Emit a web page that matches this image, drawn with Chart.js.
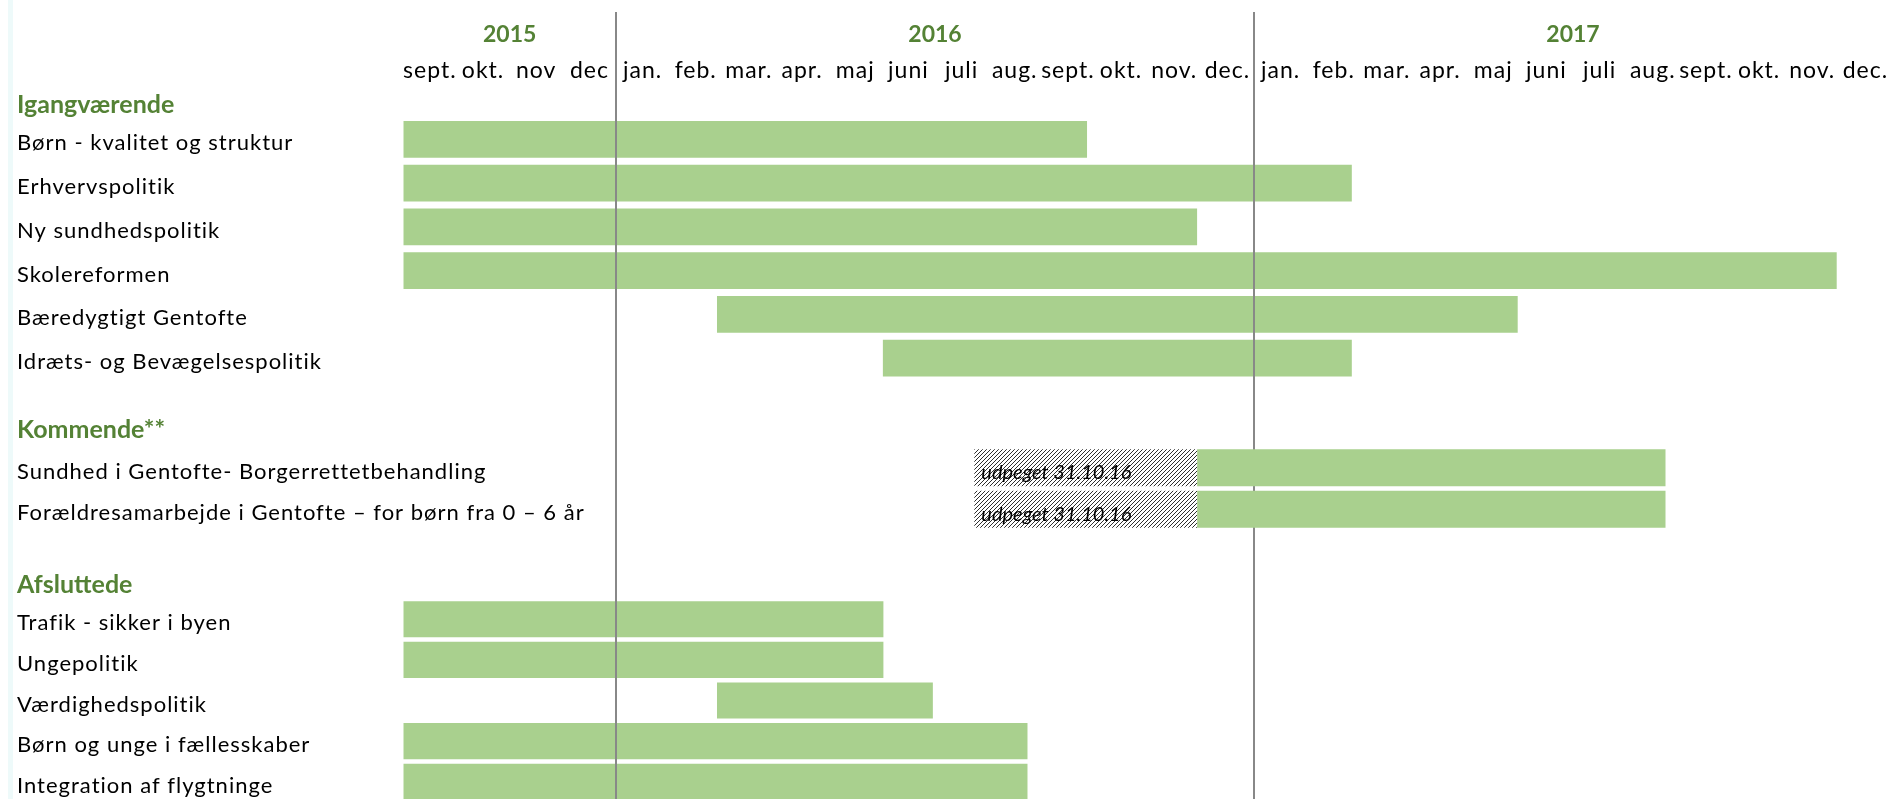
<!DOCTYPE html>
<html lang="da">
<head>
<meta charset="utf-8">
<title>Politikker - tidsplan</title>
<script src="https://cdn.jsdelivr.net/npm/chart.js@4.4.1/dist/chart.umd.min.js"></script>
<style>
    html, body { margin: 0; padding: 0; background: #fff; overflow: hidden; }
    .page { position: relative; width: 1895px; }
    .edge { position: absolute; left: 8px; top: 0; width: 5px; height: 799px; background: #eefafa; }
    .section { position: relative; width: 1895px; }
</style>
</head>
<body>
<div class="page">
    <div class="edge"></div>
    <div class="section" style="height:380px"><canvas id="ongoingChart"></canvas></div>
    <div class="section" style="height:150px"><canvas id="upcomingChart"></canvas></div>
    <div class="section" style="height:272px"><canvas id="finishedChart"></canvas></div>
</div>
<script>
// x unit = 1 month, 0 = 1. sept. 2015
const monthLabels = ['sept.', 'okt.', 'nov', 'dec',
    'jan.', 'feb.', 'mar.', 'apr.', 'maj', 'juni', 'juli', 'aug.', 'sept.', 'okt.', 'nov.', 'dec.',
    'jan.', 'feb.', 'mar.', 'apr.', 'maj', 'juni', 'juli', 'aug.', 'sept.', 'okt.', 'nov.', 'dec.'];
const yearLabels = ['2015', '2016', '2017'];

// Igangværende
const ongoingTasks = ['Børn - kvalitet og struktur', 'Erhvervspolitik', 'Ny sundhedspolitik',
    'Skolereformen', 'Bæredygtigt Gentofte', 'Idræts- og Bevægelsespolitik'];
const ongoingStart = [0, 0, 0, 0, 5.9, 9.02];
const ongoingEnd = [12.86, 17.84, 14.93, 26.96, 20.96, 17.84];

// Kommende**
const upcomingTasks = ['Sundhed i Gentofte- Borgerrettetbehandling',
    'Forældresamarbejde i Gentofte – for børn fra 0 – 6 år'];
const upcomingAppointed = [10.74, 10.74];
const upcomingStart = [14.93, 14.93];
const upcomingEnd = [23.74, 23.74];
const appointedNote = 'udpeget 31.10.16';

// Afsluttede
const finishedTasks = ['Trafik - sikker i byen', 'Ungepolitik', 'Værdighedspolitik',
    'Børn og unge i fællesskaber', 'Integration af flygtninge'];
const finishedStart = [0, 0, 5.9, 0, 0];
const finishedEnd = [9.03, 9.03, 9.96, 11.74, 11.74];

document.addEventListener('DOMContentLoaded', function() {
    const FONT = 'Lato, "Open Sans", sans-serif';
    const GREEN_TEXT = '#548235';
    const BAR_GREEN = '#a9d08e';
    const TOTAL = monthLabels.length;
    const LABEL_LEFT = 17;
    const AREA_LEFT = 403.3;

    // year spans come from where 'jan.' starts
    const yearStarts = monthLabels.map((m, i) => (i === 0 || m.startsWith('jan')) ? i : -1).filter(i => i >= 0);
    const yearBreaks = yearStarts.slice(1);
    const yearCenters = yearStarts.map((s, i) => (s + (i + 1 < yearStarts.length ? yearStarts[i + 1] : TOTAL)) / 2);

    Chart.defaults.font.family = FONT;
    Chart.defaults.animation = false;

    // hatch fill for the "udpeget" part
    function makeHatch() {
        const c = document.createElement('canvas');
        c.width = 4; c.height = 4;
        const g = c.getContext('2d');
        g.fillStyle = '#ffffff';
        g.fillRect(0, 0, 4, 4);
        g.strokeStyle = '#2e2e2e';
        g.lineWidth = 1;
        g.beginPath();
        g.moveTo(0, 4); g.lineTo(4, 0);
        g.moveTo(-1, 1); g.lineTo(1, -1);
        g.moveTo(3, 5); g.lineTo(5, 3);
        g.stroke();
        return g.createPattern(c, 'repeat');
    }

    // no extra room for labels at the ends of the axes
    function noPadding(s) {
        s.paddingLeft = 0; s.paddingRight = 0; s.paddingTop = 0; s.paddingBottom = 0;
    }

    const yearDividers = {
        id: 'yearDividers',
        beforeDatasetsDraw(chart, args, opts) { if (!opts.onTop) drawDividers(chart, opts); },
        afterDatasetsDraw(chart, args, opts) { if (opts.onTop) drawDividers(chart, opts); }
    };
    function drawDividers(chart, opts) {
        const ctx = chart.ctx;
        ctx.save();
        ctx.strokeStyle = '#888888';
        ctx.lineWidth = 2;
        ctx.beginPath();
        yearBreaks.forEach(v => {
            const x = Math.round(chart.scales.x.getPixelForValue(v));
            ctx.moveTo(x, opts.top || 0);
            ctx.lineTo(x, chart.height);
        });
        ctx.stroke();
        ctx.restore();
    }

    const sectionTitle = {
        id: 'sectionTitle',
        afterDraw(chart, args, opts) {
            const ctx = chart.ctx;
            ctx.save();
            ctx.letterSpacing = '0px';
            ctx.font = 'bold 25px ' + FONT;
            ctx.fillStyle = GREEN_TEXT;
            ctx.textBaseline = 'middle';
            ctx.textAlign = 'left';
            ctx.fillText(opts.text, LABEL_LEFT, opts.y);
            ctx.restore();
        }
    };

    const appointedLabel = {
        id: 'appointedLabel',
        afterDatasetsDraw(chart) {
            const ctx = chart.ctx;
            ctx.save();
            ctx.letterSpacing = '0px';
            ctx.font = 'italic 20px ' + FONT;
            ctx.fillStyle = '#000';
            ctx.textBaseline = 'middle';
            chart.getDatasetMeta(0).data.forEach(el => {
                ctx.fillText(appointedNote, Math.min(el.x, el.base) + 7, el.y + 5);
            });
            ctx.restore();
        }
    };

    // the source text is a bit letter-spaced; tick layers with z > 0 are drawn after datasets
    const labelSpacing = {
        id: 'labelSpacing',
        afterDatasetsDraw(chart) { chart.ctx.letterSpacing = '1px'; },
        afterDraw(chart) { chart.ctx.letterSpacing = '0px'; }
    };

    function yScale() {
        return {
            grid: { display: false, drawTicks: false },
            border: { display: false },
            afterFit: s => { s.width = AREA_LEFT - LABEL_LEFT; noPadding(s); },
            ticks: {
                mirror: true, padding: LABEL_LEFT - AREA_LEFT, z: 1,
                labelOffset: 4, autoSkip: false, color: '#000', font: { size: 22 }
            }
        };
    }
    function hiddenX() {
        return { type: 'linear', min: 0, max: TOTAL, display: false };
    }
    function baseOptions(padTop, scales, plugins) {
        return {
            indexAxis: 'y',
            responsive: true,
            maintainAspectRatio: false,
            layout: { padding: { left: LABEL_LEFT, right: 3, top: padTop, bottom: 0 } },
            scales: scales,
            plugins: Object.assign({ legend: { display: false }, tooltip: { enabled: false } }, plugins)
        };
    }

    // Igangværende, with the month / year axes on top
    new Chart(document.getElementById('ongoingChart'), {
        type: 'bar',
        data: {
            labels: ongoingTasks,
            datasets: [{
                data: ongoingStart.map((s, i) => [s, ongoingEnd[i]]),
                backgroundColor: BAR_GREEN,
                barPercentage: 0.84,
                categoryPercentage: 1
            }]
        },
        options: baseOptions(0, {
            x: {
                type: 'linear', min: 0, max: TOTAL, position: 'top', weight: 1,
                grid: { display: false, drawTicks: false },
                border: { display: false },
                afterBuildTicks: s => { s.ticks = monthLabels.map((m, i) => ({ value: i + 0.5 })); },
                afterFit: s => { s.height = 67.4; noPadding(s); },
                ticks: {
                    autoSkip: false, maxRotation: 0, minRotation: 0, padding: 32.6, z: 1,
                    color: '#000', font: { size: 23 },
                    callback: v => monthLabels[Math.floor(v)]
                }
            },
            xYear: {
                type: 'linear', min: 0, max: TOTAL, position: 'top', weight: 2,
                grid: { display: false, drawTicks: false },
                border: { display: false },
                afterBuildTicks: s => { s.ticks = yearCenters.map(v => ({ value: v })); },
                afterFit: s => { s.height = 50; noPadding(s); },
                ticks: {
                    autoSkip: false, maxRotation: 0, minRotation: 0, padding: 2,
                    color: GREEN_TEXT, font: { size: 23, weight: 'bold' },
                    callback: (v, i) => yearLabels[i]
                }
            },
            y: yScale()
        }, {
            yearDividers: { top: 12, onTop: true },
            sectionTitle: { text: 'Igangværende', y: 105 }
        }),
        plugins: [yearDividers, sectionTitle, labelSpacing]
    });

    // Kommende**
    new Chart(document.getElementById('upcomingChart'), {
        type: 'bar',
        data: {
            labels: upcomingTasks,
            datasets: [{
                data: upcomingAppointed.map((s, i) => [s, upcomingStart[i]]),
                backgroundColor: makeHatch(),
                grouped: false,
                barPercentage: 0.89,
                categoryPercentage: 1
            }, {
                data: upcomingStart.map((s, i) => [s, upcomingEnd[i]]),
                backgroundColor: BAR_GREEN,
                grouped: false,
                barPercentage: 0.89,
                categoryPercentage: 1
            }]
        },
        options: baseOptions(67, { x: hiddenX(), y: yScale() }, {
            yearDividers: { top: 0, onTop: false },
            sectionTitle: { text: 'Kommende**', y: 50 }
        }),
        plugins: [yearDividers, sectionTitle, appointedLabel, labelSpacing]
    });

    // Afsluttede
    new Chart(document.getElementById('finishedChart'), {
        type: 'bar',
        data: {
            labels: finishedTasks,
            datasets: [{
                data: finishedStart.map((s, i) => [s, finishedEnd[i]]),
                backgroundColor: BAR_GREEN,
                barPercentage: 0.89,
                categoryPercentage: 1
            }]
        },
        options: baseOptions(69, { x: hiddenX(), y: yScale() }, {
            yearDividers: { top: 0, onTop: true },
            sectionTitle: { text: 'Afsluttede', y: 55 }
        }),
        plugins: [yearDividers, sectionTitle, labelSpacing]
    });
});
</script>
</body>
</html>
